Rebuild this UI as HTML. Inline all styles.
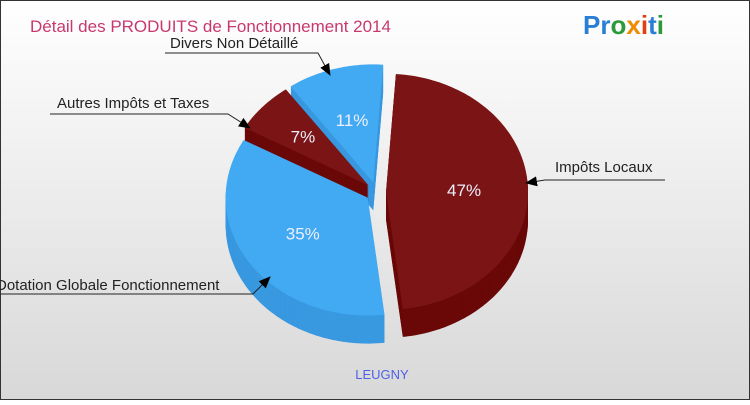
<!DOCTYPE html>
<html><head><meta charset="utf-8"><style>
html,body{margin:0;padding:0}
body{width:750px;height:400px;overflow:hidden;font-family:"Liberation Sans",sans-serif;position:relative}
</style></head><body>
<svg id="chart" width="750" height="400" xmlns="http://www.w3.org/2000/svg">
<defs><linearGradient id="bg" x1="0" y1="0" x2="0" y2="1"><stop offset="0" stop-color="#ffffff"/><stop offset="1" stop-color="#d8d8d8"/></linearGradient></defs>
<rect x="0.5" y="0.5" width="749" height="399" fill="url(#bg)" stroke="#333"/>
<text x="30" y="32" font-size="17" fill="#c8386e">Détail des PRODUITS de Fonctionnement 2014</text>
<g font-size="26" font-weight="bold" font-family="Liberation Sans, sans-serif">
<text x="583" y="34"><tspan fill="#2a7fd4">Pr</tspan><tspan fill="#2a9a3a">o</tspan><tspan fill="#f08a00">x</tspan><tspan fill="#e04010">i</tspan><tspan fill="#2a7fd4">t</tspan><tspan fill="#2a9a3a">i</tspan></text></g>
<g id="slices"></g>
<g id="labels"></g>
<text x="382" y="379" font-size="13" fill="#4f5fe8" text-anchor="middle">LEUGNY</text>
</svg>
<script>
const categories=["Impôts Locaux","Dotation Globale Fonctionnement","Autres Impôts et Taxes","Divers Non Détaillé"];
const values=[47,35,7,11];
const pctLabels=["47%","35%","7%","11%"];
const colors=["#7b1515","#42aaf2","#7b1515","#42aaf2"];
const sideColors=["#6a0808","#3898e0","#6a0808","#3898e0"];
const NS="http://www.w3.org/2000/svg";
const cx=376,cy=192,rx=142,ry=118,depth=28,explode=10,start=-86;
const total=values.reduce((a,b)=>a+b,0);
const g=document.getElementById('slices');
function pt(t,ox,oy,dy){const r=t*Math.PI/180;return [cx+ox+rx*Math.cos(r),cy+oy+ry*Math.sin(r)+dy];}
function slicePath(a0,a1,ox,oy,dy){
  const c=[cx+ox,cy+oy+dy];let d="M"+c[0]+","+c[1];
  for(let t=a0;t<=a1;t+=1){const p=pt(t,ox,oy,dy);d+=" L"+p[0].toFixed(1)+","+p[1].toFixed(1);}
  const p=pt(a1,ox,oy,dy);d+=" L"+p[0].toFixed(1)+","+p[1].toFixed(1)+" Z";return d;}
let acc=start;const sl=[];
values.forEach((v,i)=>{const a0=acc,a1=acc+v/total*360;acc=a1;const m=(a0+a1)/2*Math.PI/180;
 sl.push({i,a0,a1,m,ox:explode*Math.cos(m),oy:explode*Math.sin(m)});});
sl.slice().sort((a,b)=>Math.sin(a.m)-Math.sin(b.m)).forEach(s=>{
 const grp=document.createElementNS(NS,'g');
 
 
 for(let dy=depth;dy>0;dy-=1){const p=document.createElementNS(NS,'path');p.setAttribute('d',slicePath(s.a0,s.a1,s.ox,s.oy,dy));p.setAttribute('fill',sideColors[s.i]);grp.appendChild(p);}
 const top=document.createElementNS(NS,'path');top.setAttribute('d',slicePath(s.a0,s.a1,s.ox,s.oy,0));top.setAttribute('fill',colors[s.i]);grp.appendChild(top);
 g.appendChild(grp);
 const t=document.createElementNS(NS,'text');
 
 
 const k=values[s.i]<10?0.62:0.55;
 t.setAttribute('x',cx+s.ox+rx*k*Math.cos(s.m));t.setAttribute('y',cy+s.oy+ry*k*Math.sin(s.m)+6);
 t.setAttribute('text-anchor','middle');t.setAttribute('font-size','17');t.setAttribute('fill','#eef');
 t.textContent=pctLabels[s.i];document.getElementById('labels').appendChild(t);
});
</script>
<svg width="750" height="400" style="position:absolute;left:0;top:0" xmlns="http://www.w3.org/2000/svg">
<defs><marker id="ar2" markerWidth="12" markerHeight="10" refX="11" refY="5" orient="auto" markerUnits="userSpaceOnUse"><path d="M0,0 L12,5 L0,10 z" fill="#000"/></marker></defs>
<g font-size="15" fill="#222" font-family="Liberation Sans, sans-serif">
<text x="555" y="172">Impôts Locaux</text>
<polyline points="665,180 545,180 526,183" fill="none" stroke="#222" marker-end="url(#ar2)"/>
<text x="170" y="48">Divers Non Détaillé</text>
<polyline points="165,53 318,53 330,75" fill="none" stroke="#222" marker-end="url(#ar2)"/>
<text x="57" y="108">Autres Impôts et Taxes</text>
<polyline points="50,114 228,114 250,128" fill="none" stroke="#222" marker-end="url(#ar2)"/>
<text x="-4" y="290">Dotation Globale Fonctionnement</text>
<polyline points="0,294 253,294 270,277" fill="none" stroke="#222" marker-end="url(#ar2)"/>
</g></svg>
</body></html>
